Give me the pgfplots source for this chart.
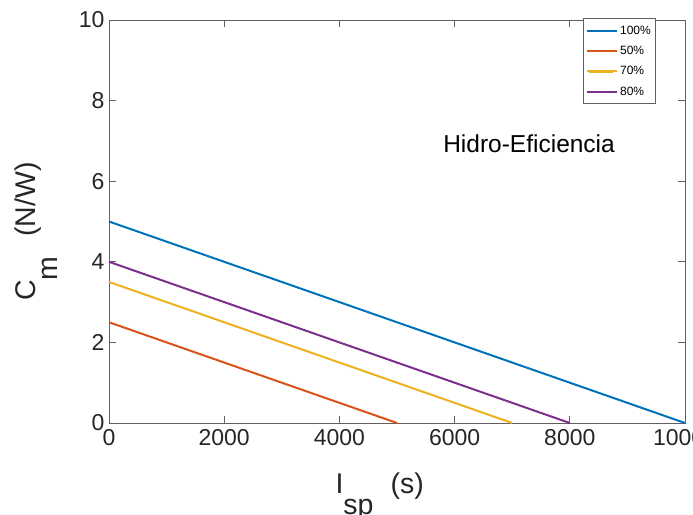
\documentclass[border=0pt]{standalone}
\usepackage{fontspec}
\setmainfont{Liberation Sans}
\usepackage{pgfplots}
\pgfplotsset{compat=1.18}
\definecolor{mB}{rgb}{0,0.447,0.741}
\definecolor{mR}{rgb}{0.85,0.325,0.098}
\definecolor{mY}{rgb}{0.929,0.694,0.125}
\definecolor{mP}{rgb}{0.494,0.184,0.556}
\definecolor{axgray}{rgb}{0.15,0.15,0.15}
\definecolor{linegray}{rgb}{0.38,0.38,0.38}
\begin{document}
\begin{tikzpicture}
\begin{axis}[
  scale only axis,
  width=576pt, height=403pt,
  xmin=0, xmax=10000, ymin=0, ymax=10,
  xtick={0,2000,...,10000}, ytick={0,2,...,10},
  scaled x ticks=false,
  /pgf/number format/assume math mode=true,
  /pgf/number format/1000 sep={},
  tick label style={font=\fontsize{23}{26}\selectfont, text=axgray},
  xticklabel style={yshift=-3pt},
  yticklabel style={xshift=-1pt},
  tick align=inside, major tick length=7pt,
  axis line style={linegray, line width=0.8pt},
  tick style={linegray, line width=0.8pt},
  xlabel={I\raisebox{-0.75em}{sp}\hspace{0.6em}(s)},
  ylabel={C\raisebox{-0.75em}{m}\hspace{0.7em}(N/W)},
  label style={font=\fontsize{28.5}{31}\selectfont, text=axgray},
  xlabel style={at={(axis description cs:0.47,0)}, anchor=north, yshift=-46pt},
  ylabel style={yshift=15pt, xshift=-10pt},
  legend style={at={(rel axis cs:0.950,1.004)}, anchor=north east,
    font=\fontsize{12}{13}\selectfont, draw=linegray, line width=0.8pt,
    row sep=6.5pt, inner xsep=3pt, inner ysep=5pt},
  legend cell align=left,
  legend image code/.code={\path (-2pt,0pt) -- (28pt,0pt);\draw[#1, line width=2.4pt] (0pt,0pt) -- (24pt,0pt);},
  every axis plot/.append style={line width=2pt},
]
\coordinate (ll) at (rel axis cs:0,0);
\coordinate (ur) at (rel axis cs:1,1);
\addplot[mB] coordinates {(0,5) (10000,0)};
\addplot[mR] coordinates {(0,2.5) (5000,0)};
\addplot[mY] coordinates {(0,3.5) (7000,0)};
\addplot[mP] coordinates {(0,4) (8000,0)};
\legend{100\%,50\%,70\%,80\%\hspace{5pt}}
\node[anchor=west, inner sep=0pt, font=\fontsize{24.5}{28}\selectfont, text=black] at (axis cs:5800,6.94) {Hidro-Eficiencia};
\end{axis}
\pgfresetboundingbox
\path ([shift={(-109pt,-91pt)}]ll) rectangle ([shift={(8pt,20pt)}]ur);
\end{tikzpicture}
\end{document}
